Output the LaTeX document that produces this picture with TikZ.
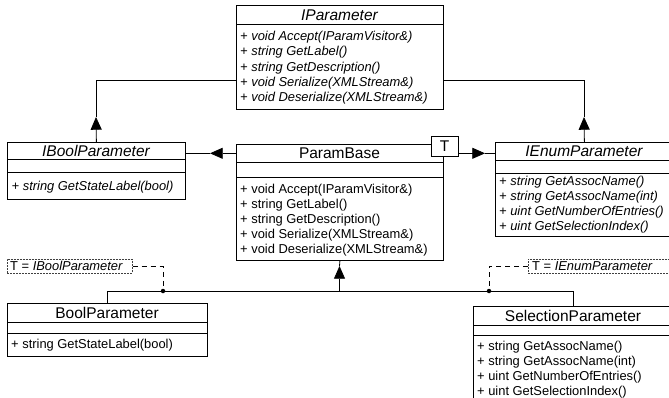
\documentclass[tikz,border=0pt]{standalone}
\usepackage{fontspec}
\setmainfont{Liberation Sans}
\usetikzlibrary{arrows.meta}
\newcommand{\ttlfont}{\fontsize{15.5}{18}\selectfont}
\newcommand{\itmfont}{\fontsize{12.9}{15}\selectfont}
\begin{document}
\begin{tikzpicture}[x=1pt,y=-1pt,
  umlbox/.style={draw=black, line width=0.8pt, fill=white, inner sep=0pt, anchor=north west},
  septr/.style={line width=0.8pt},
  ttl/.style={font=\ttlfont, inner sep=0pt, anchor=base},
  itm/.style={font=\itmfont, inner sep=0pt, anchor=base west},
  conn/.style={line width=0.8pt},
  gentri/.style={conn, -{Triangle[length=12.7pt,width=11pt]}},
  notebox/.style={draw=black!75, line width=0.6pt, dash pattern=on 2pt off 1pt, fill=white, inner sep=0pt, anchor=north west},
  notelink/.style={line width=0.8pt, dash pattern=on 5pt off 4pt},
  joint/.style={circle, fill=black, inner sep=0pt, minimum size=4.5pt}
]
\useasboundingbox (0,0) rectangle (669,398);
\clip (0,0) rectangle (669,398);
\fill[white] (0,0) rectangle (669,398);

% ---------- boxes ----------
\node[umlbox, minimum width=207pt, minimum height=104pt] (ip) at (236,5) {};
\node[umlbox, minimum width=178pt, minimum height=57pt]  (ib) at (7,142) {};
\node[umlbox, minimum width=207pt, minimum height=116pt] (pb) at (236,144) {};
\node[umlbox, minimum width=178pt, minimum height=94pt]  (ie) at (495,142) {};
\node[umlbox, minimum width=27pt, minimum height=20pt]   (Tb) at (431,136) {};
\node[umlbox, minimum width=200pt, minimum height=53pt]  (bp) at (7,303) {};
\node[umlbox, minimum width=200pt, minimum height=100pt] (sp) at (473,306) {};
\node[notebox, minimum width=125pt, minimum height=14pt] (n1) at (7,259) {};
\node[notebox, minimum width=160pt, minimum height=14pt] (n2) at (528,259) {};

% separators
\draw[septr] (236,24) -- (443,24);
\draw[septr] (7,159.5) -- (185,159.5);
\draw[septr] (7,172) -- (185,172);
\draw[septr] (236,162.5) -- (443,162.5);
\draw[septr] (236,177) -- (443,177);
\draw[septr] (495,160.5) -- (673,160.5);
\draw[septr] (495,173) -- (673,173);
\draw[septr] (7,322) -- (207,322);
\draw[septr] (7,333) -- (207,333);
\draw[septr] (473,325) -- (673,325);
\draw[septr] (473,335) -- (673,335);

% ---------- texts ----------
\node[ttl] (ipt) at (339.5,20.5) {\itshape IParameter};
\node[itm] (ip1) at (240,40.6) {\itshape + void Accept(IParamVisitor\&)};
\node[itm] (ip2) at (240,55.9) {\itshape + string GetLabel()};
\node[itm] (ip3) at (240,71.1) {\itshape + string GetDescription()};
\node[itm] (ip4) at (240,86.4) {\itshape + void Serialize(XMLStream\&)};
\node[itm] (ip5) at (240,101.6) {\itshape + void Deserialize(XMLStream\&)};

\node[ttl] (ibt) at (96,156.5) {\itshape IBoolParameter};
\node[itm] (ib1) at (11.5,190.6) {\itshape + string GetStateLabel(bool)};

\node[ttl] (pbt) at (339.5,158.8) {ParamBase};
\node[itm] (pb1) at (240,193.6) {+ void Accept(IParamVisitor\&)};
\node[itm] (pb2) at (240,208.6) {+ string GetLabel()};
\node[itm] (pb3) at (240,223.6) {+ string GetDescription()};
\node[itm] (pb4) at (240,238.6) {+ void Serialize(XMLStream\&)};
\node[itm] (pb5) at (240,253.6) {+ void Deserialize(XMLStream\&)};

\node[ttl] (Tt) at (444.5,151.5) {T};

\node[ttl] (iet) at (584,156.8) {\itshape IEnumParameter};
\node[itm] (ie1) at (499,185.6) {\itshape + string GetAssocName()};
\node[itm] (ie2) at (499,200.6) {\itshape + string GetAssocName(int)};
\node[itm] (ie3) at (499,215.6) {\itshape + uint GetNumberOfEntries()};
\node[itm] (ie4) at (499,230.6) {\itshape + uint GetSelectionIndex()};

\node[ttl] (bpt) at (107,318.5) {BoolParameter};
\node[itm] (bp1) at (11,348.6) {+ string GetStateLabel(bool)};

\node[ttl] (spt) at (573,321) {SelectionParameter};
\node[itm] (sp1) at (477,350.6) {+ string GetAssocName()};
\node[itm] (sp2) at (477,365.6) {+ string GetAssocName(int)};
\node[itm] (sp3) at (477,380.6) {+ uint GetNumberOfEntries()};
\node[itm] (sp4) at (477,395.6) {+ uint GetSelectionIndex()};

\node[itm] (n1t) at (10,270.3) {T = \textit{IBoolParameter}};
\node[itm] (n2t) at (532,270.3) {T = \textit{IEnumParameter}};

% ---------- connectors ----------
\coordinate (a1) at (96,117);
\coordinate (j1) at (96,80);
\draw[gentri] (ib.north) -- (a1);
\draw[conn] (a1) -- (j1) -- (j1 -| ip.west);

\coordinate (a2) at (584,117);
\coordinate (j2) at (584,80);
\draw[gentri] (ie.north) -- (a2);
\draw[conn] (a2) -- (j2) -- (j2 -| ip.east);

\coordinate (a3) at (210,153.3);
\draw[gentri] (a3 -| pb.west) -- (a3);
\draw[conn] (ib.east |- a3) -- (a3);

\coordinate (a4) at (485,153.3);
\draw[gentri] (a4 -| Tb.east) -- (a4);
\draw[conn] (a4) -- (a4 -| ie.west);

\coordinate (a5) at (339.5,266);
\coordinate (h) at (339.5,291);
\draw[gentri] (h) -- (a5);
\draw[conn] (a5) -- (pb.south);
\draw[conn] (bp.north) -- (bp.north |- h) -- (sp.north |- h) -- (sp.north);

\node[joint] (d1) at (163,291) {};
\node[joint] (d2) at (489,291) {};
\draw[notelink] (n1.east) -| (d1.center);
\draw[notelink] (n2.west) -| (d2.center);
\end{tikzpicture}
\end{document}
